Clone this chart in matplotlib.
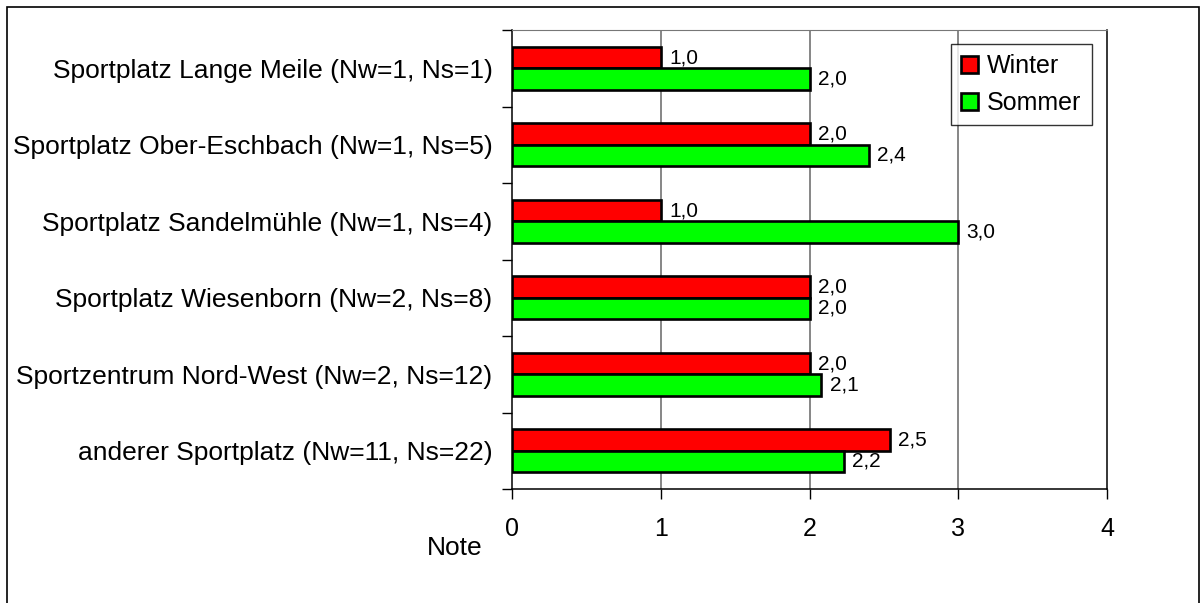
import matplotlib.pyplot as plt
from matplotlib.patches import Rectangle

plt.rcParams['font.family'] = ['Liberation Sans', 'DejaVu Sans']

categories = [
    'Sportplatz Lange Meile (Nw=1, Ns=1)',
    'Sportplatz Ober-Eschbach (Nw=1, Ns=5)',
    'Sportplatz Sandelmühle (Nw=1, Ns=4)',
    'Sportplatz Wiesenborn (Nw=2, Ns=8)',
    'Sportzentrum Nord-West (Nw=2, Ns=12)',
    'anderer Sportplatz (Nw=11, Ns=22)',
]
winter = [1.0, 2.0, 1.0, 2.0, 2.0, 2.54]
sommer = [2.0, 2.4, 3.0, 2.0, 2.08, 2.23]
x_ticks = [0, 1, 2, 3, 4]


def fmt(v):
    return f'{v:.1f}'.replace('.', ',')


fig = plt.figure(figsize=(12.02, 6.03), dpi=100)
ax = fig.add_axes([512 / 1202, 1 - 489 / 603, (1107 - 512) / 1202, (489 - 30) / 603])

# outer frame around the whole chart (bottom edge runs off the image)
fig.patches.append(Rectangle((7 / 1202, -5 / 603), 1192 / 1202, 601 / 603,
                             transform=fig.transFigure, fill=False,
                             edgecolor='black', linewidth=1.2))

h = 0.28
pos = list(range(len(categories)))
ax.barh([p - h / 2 for p in pos], winter, height=h, color='#ff0000',
        edgecolor='black', linewidth=1.9, label='Winter', zorder=3)
ax.barh([p + h / 2 for p in pos], sommer, height=h, color='#00ff00',
        edgecolor='black', linewidth=1.9, label='Sommer', zorder=3)

for p, v in zip(pos, winter):
    ax.text(v + 0.055, p - h / 2, fmt(v), va='center', ha='left', fontsize=15)
for p, v in zip(pos, sommer):
    ax.text(v + 0.055, p + h / 2, fmt(v), va='center', ha='left', fontsize=15)

ax.set_xlim(0, 4)
ax.set_ylim(5.5, -0.5)
ax.set_xticks(x_ticks)
ax.set_xticklabels([str(t) for t in x_ticks], fontsize=18)
ax.tick_params(axis='x', direction='out', length=7, width=1, pad=13)

# category labels sit between the boundary ticks
ax.set_yticks(pos)
ax.set_yticklabels(categories, fontsize=19)
ax.tick_params(axis='y', which='major', length=0, pad=14)
ax.set_yticks([p - 0.5 for p in pos] + [5.5], minor=True)
ax.tick_params(axis='y', which='minor', direction='out', length=7, width=1)

for x in [1, 2, 3]:
    ax.axvline(x, color='#666666', linewidth=1.1, zorder=1)

ax.spines['top'].set_color('#777777')
for s in ['left', 'bottom', 'right']:
    ax.spines[s].set_color('black')
    ax.spines[s].set_linewidth(1.1)

leg = ax.legend(loc='upper right', bbox_to_anchor=(0.9748, 0.9695), fontsize=18,
                frameon=True, fancybox=False, handlelength=0.68, handleheight=0.68,
                handletextpad=0.36, borderpad=0.42, labelspacing=0.5,
                borderaxespad=0)
leg.get_frame().set_edgecolor('black')
leg.get_frame().set_linewidth(1.0)
for patch in leg.get_patches():
    patch.set_linewidth(1.9)

fig.text(455 / 1202, 1 - 548 / 603, 'Note', ha='center', va='center', fontsize=19)

fig.savefig('out.png', dpi=100, facecolor='white')
